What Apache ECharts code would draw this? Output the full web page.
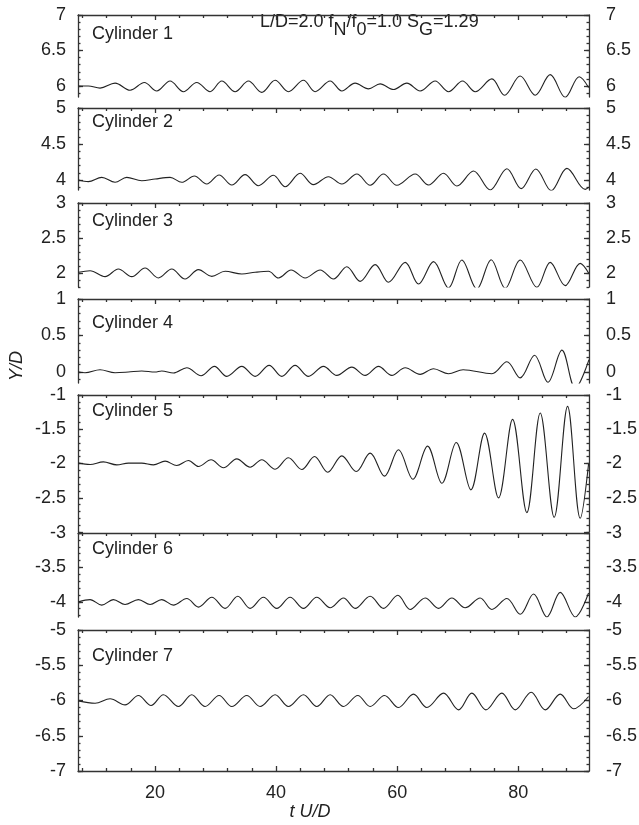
<!DOCTYPE html>
<html><head><meta charset="utf-8">
<script src="https://cdn.jsdelivr.net/npm/echarts@6/dist/echarts.min.js"></script>
<style>html,body{margin:0;padding:0;background:#fff}#c{width:639px;height:825px}</style>
</head><body><div id="c"></div>
<script>
// ---------- data ----------
const xTickLabels = [20, 40, 60, 80];
const yLabels1 = [6, 6.5, 7];
const yLabels2 = [4, 4.5, 5];
const yLabels3 = [2, 2.5, 3];
const yLabels4 = [0, 0.5, 1];
const yLabels5 = [-2.5, -2, -1.5, -1];
const yLabels6 = [-4, -3.5, -3];
const yLabels7 = [-7, -6.5, -6, -5.5, -5];
const cylinderNames = ['Cylinder 1','Cylinder 2','Cylinder 3','Cylinder 4','Cylinder 5','Cylinder 6','Cylinder 7'];

const cyl1 = [[7.33,6.00],[8.98,6.00],[10.91,5.97],[13.39,6.04],[15.87,5.94],[18.24,6.05],[20.28,5.93],[22.48,6.07],[24.69,5.92],[26.89,6.05],[29.09,5.92],[31.02,6.07],[33.23,5.92],[35.43,6.07],[37.63,5.91],[39.84,6.08],[42.04,5.92],[44.52,6.08],[46.45,5.92],[48.93,6.07],[50.86,5.93],[53.06,6.04],[55.26,5.96],[57.19,6.03],[59.40,5.95],[61.60,6.04],[63.80,5.93],[66.28,6.07],[68.49,5.92],[70.80,6.07],[72.90,5.92],[75.65,6.10],[77.74,5.87],[80.33,6.14],[82.81,5.87],[85.29,6.16],[87.77,5.84],[90.08,6.13],[91.63,5.98]];
const cyl2 = [[7.33,4.00],[8.98,3.977],[11.19,4.037],[13.39,3.968],[15.32,4.037],[17.80,3.99],[20.00,4.014],[22.48,4.037],[24.41,3.968],[26.50,4.056],[28.54,3.944],[30.58,4.07],[32.68,3.93],[34.88,4.074],[37.08,3.92],[39.56,4.065],[41.49,3.907],[43.97,4.093],[46.17,3.935],[48.65,4.046],[50.86,3.944],[53.34,4.083],[55.54,3.926],[57.74,4.083],[59.95,3.926],[62.98,4.083],[65.18,3.93],[67.66,4.093],[69.87,3.917],[72.62,4.125],[75.37,3.861],[78.13,4.157],[80.50,3.88],[82.92,4.153],[85.46,3.852],[88.05,4.162],[91.08,3.87],[91.70,3.90]];
const cyl3 = [[7.33,2.01],[9.26,2.033],[11.74,1.948],[13.94,2.057],[16.15,1.948],[18.35,2.071],[20.55,1.929],[22.76,2.057],[24.96,1.914],[27.17,2.048],[29.37,1.952],[31.57,2.024],[34.33,1.986],[36.53,2.01],[38.74,2.024],[40.39,1.929],[42.48,2.043],[44.80,1.929],[47.28,2.043],[49.48,1.914],[51.68,2.09],[53.89,1.881],[56.37,2.119],[58.57,1.867],[61.33,2.152],[63.53,1.843],[66.01,2.162],[68.49,1.786],[70.69,2.186],[73.17,1.771],[75.54,2.19],[77.86,1.781],[80.33,2.186],[83.09,1.795],[85.29,2.152],[87.77,1.819],[90.25,2.138],[91.70,1.99]];
const cyl4 = [[7.33,0.00],[8.43,-0.009],[10.91,0.032],[13.39,-0.009],[15.60,0.00],[17.80,0.014],[20.00,0.00],[21.10,0.014],[23.03,-0.014],[25.24,0.059],[27.61,-0.05],[29.81,0.078],[31.85,-0.059],[34.33,0.078],[36.53,-0.059],[38.85,0.091],[40.94,-0.059],[43.14,0.091],[45.35,-0.059],[47.83,0.078],[50.03,-0.046],[52.51,0.068],[54.71,-0.046],[56.92,0.078],[59.12,-0.046],[61.33,0.059],[63.80,-0.032],[66.01,0.046],[68.49,-0.023],[70.90,0.032],[75.65,-0.023],[78.13,0.14],[80.33,-0.08],[82.70,0.23],[84.91,-0.14],[87.22,0.30],[89.42,-0.22],[91.70,0.17]];
const cyl5 = [[7.33,-1.995],[9.26,-2.015],[11.46,-1.976],[13.67,-2.02],[15.60,-1.995],[17.80,-1.995],[19.73,-2.02],[21.66,-1.966],[23.58,-2.03],[25.51,-1.956],[27.17,-2.044],[29.26,-1.946],[31.30,-2.063],[33.50,-1.932],[35.71,-2.054],[37.63,-1.946],[39.84,-2.083],[42.04,-1.917],[44.25,-2.088],[46.34,-1.898],[48.54,-2.127],[50.86,-1.888],[53.23,-2.117],[55.54,-1.849],[57.91,-2.185],[60.22,-1.80],[62.59,-2.229],[65.02,-1.746],[67.39,-2.288],[69.76,-1.693],[72.18,-2.385],[74.44,-1.556],[76.75,-2.502],[79.07,-1.356],[81.43,-2.717],[83.64,-1.263],[85.95,-2.785],[88.16,-1.166],[90.25,-2.80],[91.63,-2.005]];
const cyl6 = [[7.33,-4.00],[9.26,-3.967],[11.19,-4.048],[13.12,-3.967],[15.04,-4.038],[17.25,-3.967],[19.18,-4.038],[21.10,-3.967],[23.03,-4.048],[25.24,-3.952],[27.17,-4.076],[29.37,-3.933],[31.57,-4.095],[33.67,-3.919],[35.71,-4.095],[37.91,-3.933],[40.11,-4.095],[42.32,-3.933],[44.52,-4.095],[46.72,-3.933],[48.93,-4.086],[51.13,-3.943],[53.06,-4.095],[55.54,-3.919],[57.74,-4.095],[60.11,-3.905],[62.15,-4.11],[64.63,-3.943],[66.84,-4.095],[69.04,-3.943],[71.24,-4.086],[73.72,-3.943],[75.65,-4.11],[78.13,-3.952],[80.33,-4.181],[82.54,-3.886],[84.74,-4.219],[86.95,-3.862],[89.42,-4.219],[91.63,-3.871]];
const cyl7 = [[7.33,-6.005],[10.09,-6.038],[12.57,-5.976],[15.04,-6.062],[17.25,-5.929],[19.34,-6.071],[21.38,-5.919],[23.86,-6.085],[26.06,-5.919],[28.27,-6.085],[30.58,-5.929],[32.68,-6.085],[35.15,-5.929],[37.36,-6.085],[39.84,-5.919],[42.04,-6.085],[44.52,-5.919],[46.72,-6.085],[48.93,-5.919],[51.13,-6.085],[53.50,-5.929],[55.54,-6.085],[57.91,-5.929],[60.22,-6.10],[62.70,-5.91],[64.91,-6.10],[67.66,-5.896],[70.14,-6.133],[72.34,-5.896],[74.66,-6.133],[77.30,-5.896],[79.51,-6.133],[82.15,-5.882],[84.47,-6.133],[86.95,-5.91],[89.15,-6.118],[91.63,-5.943]];

// ---------- layout ----------
const FONT = '"Liberation Sans", Arial, Helvetica, sans-serif';
const INK = '#222';
const AX = '#333';
const xMin = 7.27, xMax = 91.7;
const seriesData = [cyl1, cyl2, cyl3, cyl4, cyl5, cyl6, cyl7];
const yLabelSets = [yLabels1, yLabels2, yLabels3, yLabels4, yLabels5, yLabels6, yLabels7];
const layout = [
  {top: 15,  bottom: 97,  min: 5.845, max: 7,  nameY: 34},
  {top: 108, bottom: 190, min: 3.861, max: 5,  nameY: 122},
  {top: 203, bottom: 287, min: 1.8,   max: 3,  nameY: 221},
  {top: 299, bottom: 383, min: -0.15, max: 1,  nameY: 323},
  {top: 395, bottom: 532, min: -3,    max: -1, nameY: 411},
  {top: 533, bottom: 617, min: -4.22, max: -3, nameY: 549},
  {top: 630, bottom: 771, min: -7,    max: -5, nameY: 656}
];

function steps(min, max, step) {
  const out = [];
  const k0 = Math.ceil(min / step - 1e-6), k1 = Math.floor(max / step + 1e-6);
  for (let k = k0; k <= k1; k++) out.push(+(k * step).toFixed(4));
  return out;
}
const xMinor = steps(xMin, xMax, 4).filter(v => v % 20 !== 0);
const lineStyle = {color: AX, width: 1.3};

const grids = [], xAxes = [], yAxes = [], series = [], graphics = [];
layout.forEach((p, i) => {
  grids.push({left: 78, right: 50, top: p.top, height: p.bottom - p.top, outerBoundsMode: 'none', containLabel: false});
  const mainX = xAxes.length;
  const baseX = {gridIndex: i, type: 'value', min: xMin, max: xMax, splitLine: {show: false}, axisLabel: {show: false}};
  xAxes.push(Object.assign({}, baseX, {position: 'top',
    axisLine: {show: true, onZero: false, lineStyle},
    axisTick: {show: true, inside: true, length: 5, customValues: xTickLabels, lineStyle}}));
  xAxes.push(Object.assign({}, baseX, {position: 'top',
    axisLine: {show: false, onZero: false},
    axisTick: {show: true, inside: true, length: 3, customValues: xMinor, lineStyle}}));
  if (i === layout.length - 1) {
    xAxes.push(Object.assign({}, baseX, {position: 'bottom',
      axisLine: {show: true, onZero: false, lineStyle},
      axisTick: {show: true, inside: true, length: 5, customValues: xTickLabels, lineStyle},
      axisLabel: {show: true, customValues: xTickLabels, margin: 13, fontSize: 18, fontFamily: FONT, color: INK}}));
    xAxes.push(Object.assign({}, baseX, {position: 'bottom',
      axisLine: {show: false, onZero: false},
      axisTick: {show: true, inside: true, length: 3, customValues: xMinor, lineStyle}}));
  }
  const majors = steps(p.min, p.max, 0.5);
  const minors = steps(p.min, p.max, 0.1);
  const mainY = yAxes.length;
  ['left', 'right'].forEach(pos => {
    const base = {gridIndex: i, type: 'value', min: p.min, max: p.max, position: pos, splitLine: {show: false}};
    yAxes.push(Object.assign({}, base, {
      axisLine: {show: true, onZero: false, lineStyle},
      axisTick: {show: true, inside: true, length: 5, customValues: majors, lineStyle},
      axisLabel: {show: true, customValues: yLabelSets[i], margin: pos === 'left' ? 12 : 17,
        fontSize: 18, fontFamily: FONT, color: INK}}));
    yAxes.push(Object.assign({}, base, {
      axisLine: {show: false, onZero: false},
      axisTick: {show: true, inside: true, length: 2.5, customValues: minors, lineStyle},
      axisLabel: {show: false}}));
  });
  series.push({type: 'line', xAxisIndex: mainX, yAxisIndex: mainY, data: seriesData[i],
    smooth: 0.35, showSymbol: false, symbol: 'none', clip: true,
    lineStyle: {color: INK, width: 1.1}, silent: true});
  graphics.push({type: 'text', x: 92, y: p.nameY,
    style: {text: cylinderNames[i], font: '18px ' + FONT, fill: INK, align: 'left', verticalAlign: 'middle'}});
});

graphics.push({type: 'text', x: 260, y: 13,
  style: {text: '{n|L/D=2.0 f}{s|N}{n|/f}{s|0}{n|=1.0 S}{s|G}{n|=1.29}',
    align: 'left', verticalAlign: 'top', fill: INK,
    rich: {
      n: {fontSize: 18, fontFamily: FONT, lineHeight: 20, verticalAlign: 'top', fill: INK},
      s: {fontSize: 18, fontFamily: FONT, lineHeight: 26.5, verticalAlign: 'bottom', fill: INK}
    }}});
graphics.push({type: 'text', x: 17, y: 366, rotation: Math.PI / 2,
  style: {text: 'Y/D', font: 'italic 18px ' + FONT, fill: INK, align: 'center', verticalAlign: 'middle'}});
graphics.push({type: 'text', x: 310, y: 812,
  style: {text: 't U/D', font: 'italic 18px ' + FONT, fill: INK, align: 'center', verticalAlign: 'middle'}});

const chart = echarts.init(document.getElementById('c'), null, {renderer: 'canvas'});
chart.setOption({
  animation: false,
  backgroundColor: '#fff',
  grid: grids, xAxis: xAxes, yAxis: yAxes, series: series, graphic: graphics
});
</script></body></html>
